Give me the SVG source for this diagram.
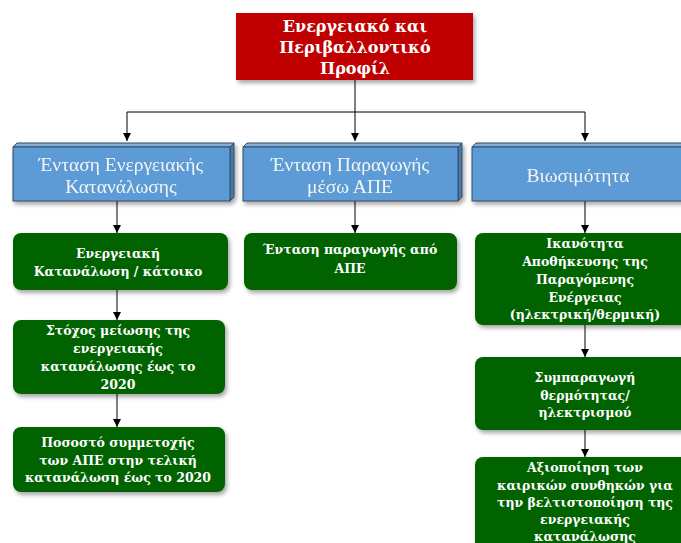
<svg xmlns="http://www.w3.org/2000/svg" width="681" height="543" viewBox="0 0 681 543">
  <defs>
    <filter id="shadow" x="-10%" y="-10%" width="125%" height="130%">
      <feDropShadow dx="2" dy="3" stdDeviation="2" flood-color="#000" flood-opacity="0.35"/>
    </filter>
    <marker id="arrow" viewBox="0 0 10 10" refX="10" refY="5" markerWidth="8" markerHeight="8" markerUnits="userSpaceOnUse" orient="auto">
      <path d="M0,0 L10,5 L0,10 Z" fill="#000"/>
    </marker>
  </defs>
  <style>
    .title { font-family: "DejaVu Serif", "Liberation Serif", serif; font-weight: bold; font-size: 16px; fill: #ffffff; text-anchor: middle; }
    .blue-text { font-family: "Liberation Serif", serif; font-size: 19.5px; fill: #f4f4f4; text-anchor: middle; }
    .green-text { font-family: "DejaVu Serif", "Liberation Serif", serif; font-weight: bold; font-size: 12.5px; fill: #ffffff; text-anchor: middle; }
    .front { fill: #5b9bd5; stroke: #3a4a5c; stroke-width: 1; }
    .top-face { fill: #7fb1df; stroke: #3a4a5c; stroke-width: 1; }
    .side-face { fill: #3f7bb3; stroke: #3a4a5c; stroke-width: 1; }
    .green { fill: #006400; filter: url(#shadow); }
    .conn { fill: none; stroke: #000; stroke-width: 1; }
  </style>

  <rect width="681" height="543" fill="#ffffff"/>

  <!-- connectors -->
  <g id="connectors">
    <path class="conn" d="M355,80 V112 M127,112 H585"/>
    <path class="conn" d="M127,112 V141" marker-end="url(#arrow)"/>
    <path class="conn" d="M355,112 V141" marker-end="url(#arrow)"/>
    <path class="conn" d="M585,112 V141" marker-end="url(#arrow)"/>
    <path class="conn" d="M117,201 V233" marker-end="url(#arrow)"/>
    <path class="conn" d="M117,290 V320" marker-end="url(#arrow)"/>
    <path class="conn" d="M117,394 V427" marker-end="url(#arrow)"/>
    <path class="conn" d="M355,201 V233" marker-end="url(#arrow)"/>
    <path class="conn" d="M585,201 V233" marker-end="url(#arrow)"/>
    <path class="conn" d="M585,325 V357" marker-end="url(#arrow)"/>
    <path class="conn" d="M585,430 V457" marker-end="url(#arrow)"/>
  </g>

  <!-- root -->
  <g id="profile">
    <rect x="236" y="13" width="237" height="67" fill="#c00000" filter="url(#shadow)"/>
    <text class="title" x="355" y="32">Ενεργειακό και</text>
    <text class="title" x="355" y="53">Περιβαλλοντικό</text>
    <text class="title" x="355" y="74">Προφίλ</text>
  </g>

  <!-- category boxes -->
  <g id="consumption-intensity" filter="url(#shadow)">
    <path class="top-face" d="M13,147 L17,143 H234 L230,147 Z"/>
    <path class="side-face" d="M230,147 L234,143 V197 L230,201 Z"/>
    <rect class="front" x="13" y="147" width="217" height="54"/>
    <text class="blue-text" x="121" y="171">Ένταση Ενεργειακής</text>
    <text class="blue-text" x="121" y="193">Κατανάλωσης</text>
  </g>
  <g id="res-intensity" filter="url(#shadow)">
    <path class="top-face" d="M243,147 L247,143 H462 L458,147 Z"/>
    <path class="side-face" d="M458,147 L462,143 V197 L458,201 Z"/>
    <rect class="front" x="243" y="147" width="215" height="54"/>
    <text class="blue-text" x="350" y="171">Ένταση Παραγωγής</text>
    <text class="blue-text" x="350" y="193">μέσω ΑΠΕ</text>
  </g>
  <g id="sustainability" filter="url(#shadow)">
    <path class="top-face" d="M472,147 L476,143 H685 L681,147 Z"/>
    <rect class="front" x="472" y="147" width="215" height="54"/>
    <text class="blue-text" x="578" y="182">Βιωσιμότητα</text>
  </g>

  <!-- column 1 -->
  <g id="consumption-per-capita">
    <rect class="green" x="13" y="233" width="215" height="57" rx="8"/>
    <text class="green-text" x="118" y="258">Ενεργειακή</text>
    <text class="green-text" x="118" y="276">Κατανάλωση / κάτοικο</text>
  </g>
  <g id="reduction-target">
    <rect class="green" x="13" y="320" width="212" height="74" rx="8"/>
    <text class="green-text" x="118" y="335">Στόχος μείωσης της</text>
    <text class="green-text" x="118" y="353">ενεργειακής</text>
    <text class="green-text" x="118" y="371">κατανάλωσης έως το</text>
    <text class="green-text" x="118" y="389">2020</text>
  </g>
  <g id="res-share">
    <rect class="green" x="13" y="427" width="212" height="65" rx="8"/>
    <text class="green-text" x="118" y="447">Ποσοστό συμμετοχής</text>
    <text class="green-text" x="118" y="465">των ΑΠΕ στην τελική</text>
    <text class="green-text" x="118" y="482">κατανάλωση έως το 2020</text>
  </g>

  <!-- column 2 -->
  <g id="res-production">
    <rect class="green" x="244" y="233" width="213" height="57" rx="8"/>
    <text class="green-text" x="350" y="254">Ένταση παραγωγής από</text>
    <text class="green-text" x="350" y="273">ΑΠΕ</text>
  </g>

  <!-- column 3 -->
  <g id="storage-capacity">
    <rect class="green" x="475" y="233" width="215" height="92" rx="8"/>
    <text class="green-text" x="585" y="248">Ικανότητα</text>
    <text class="green-text" x="585" y="266">Αποθήκευσης της</text>
    <text class="green-text" x="585" y="284">Παραγόμενης</text>
    <text class="green-text" x="585" y="302">Ενέργειας</text>
    <text class="green-text" x="585" y="319">(ηλεκτρική/θερμική)</text>
  </g>
  <g id="cogeneration">
    <rect class="green" x="475" y="357" width="215" height="73" rx="8"/>
    <text class="green-text" x="585" y="382">Συμπαραγωγή</text>
    <text class="green-text" x="585" y="400">θερμότητας/</text>
    <text class="green-text" x="585" y="417">ηλεκτρισμού</text>
  </g>
  <g id="weather-utilisation">
    <rect class="green" x="475" y="457" width="215" height="100" rx="8"/>
    <text class="green-text" x="585" y="472">Αξιοποίηση των</text>
    <text class="green-text" x="585" y="490">καιρικών συνθηκών για</text>
    <text class="green-text" x="585" y="507">την βελτιστοποίηση της</text>
    <text class="green-text" x="585" y="524">ενεργειακής</text>
    <text class="green-text" x="585" y="541">κατανάλωσης</text>
  </g>
</svg>
